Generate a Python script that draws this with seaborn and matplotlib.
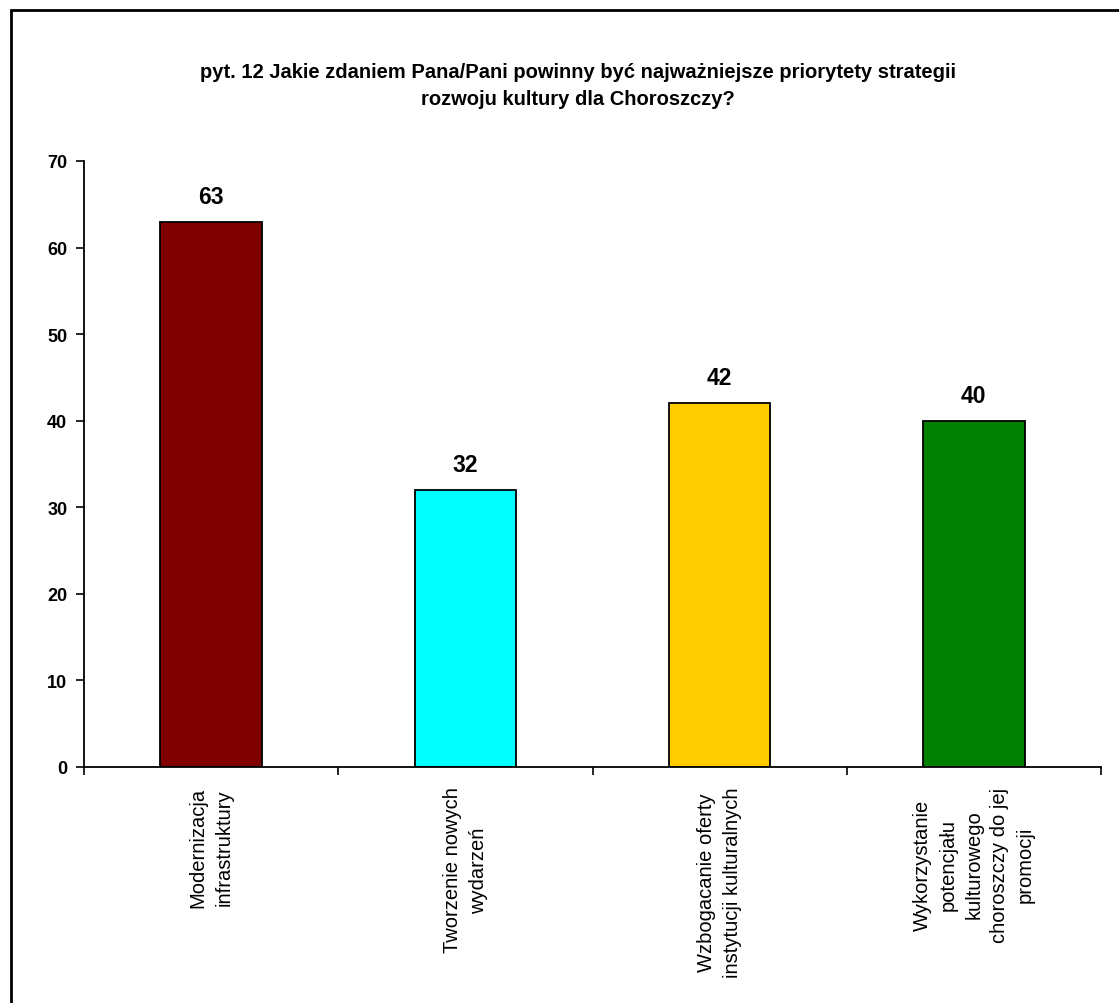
import matplotlib
matplotlib.use("Agg")
import matplotlib.pyplot as plt
import seaborn as sns
import pandas as pd
from matplotlib.patches import Rectangle

# dane z wykresu
categories = [
    "Modernizacja\ninfrastruktury",
    "Tworzenie nowych\nwydarzeń",
    "Wzbogacanie oferty\ninstytucji kulturalnych",
    "Wykorzystanie\npotencjału\nkulturowego\nchoroszczy do jej\npromocji",
]
values = [63, 32, 42, 40]
bar_colors = ["#800000", "#00FFFF", "#FFCC00", "#008000"]
y_ticks = [0, 10, 20, 30, 40, 50, 60, 70]

title = ("pyt. 12 Jakie zdaniem Pana/Pani powinny być najważniejsze priorytety strategii\n"
         "rozwoju kultury dla Choroszczy?")

sns.set_style("white")
plt.rcParams['font.family'] = ['Liberation Sans', 'DejaVu Sans']
plt.rcParams['text.color'] = 'black'
plt.rcParams['xtick.color'] = 'black'
plt.rcParams['ytick.color'] = 'black'

df = pd.DataFrame({"kat": categories, "n": values})

fig = plt.figure(figsize=(11.19, 10.04), dpi=100)
ax = fig.add_axes([0.0751, 0.2351, 0.9088, 0.6036])

sns.barplot(data=df, x="kat", y="n", hue="kat", palette=bar_colors, legend=False,
            width=0.4, edgecolor="black", linewidth=1.3, saturation=1, ax=ax)

# etykiety wartości nad słupkami
for i, v in enumerate(values):
    ax.text(i, v + 1.6, str(v), ha="center", va="bottom", fontsize=16.5, weight="bold",
            color="black")

ax.set_xlim(-0.5, len(categories) - 0.5)
ax.set_ylim(0, 70)
ax.set_yticks(y_ticks)
ax.set_yticklabels([str(t) for t in y_ticks], fontsize=13, weight="bold")
ax.set_xlabel("")
ax.set_ylabel("")

# podpisy kategorii pionowo, kreski na granicach kategorii
ax.set_xticks(range(len(categories)))
ax.set_xticklabels(categories, rotation=90, fontsize=14.5, ha="center", va="top",
                   multialignment="center", linespacing=1.45)
ax.set_xticks([i - 0.5 for i in range(len(categories) + 1)], minor=True)
ax.tick_params(axis="x", which="major", length=0, pad=14, bottom=True)
ax.tick_params(axis="x", which="minor", length=6, width=1.2, direction="out",
               color="black", bottom=True)
ax.tick_params(axis="y", length=6, width=1.2, direction="out", color="black", pad=6, left=True)

for s in ["top", "right"]:
    ax.spines[s].set_visible(False)
for s in ["left", "bottom"]:
    ax.spines[s].set_color("black")
    ax.spines[s].set_linewidth(1.3)

fig.text(0.5166, 0.914, title, ha="center", va="center", fontsize=14.5, weight="bold",
         linespacing=1.55)

# ramka wokół wykresu
fig.patches.append(Rectangle((11 / 1119, -0.01), 1.02, 1 - 11 / 1004 + 0.01,
                             transform=fig.transFigure, fill=False,
                             edgecolor="black", linewidth=2))

fig.savefig("out.png", dpi=100)
